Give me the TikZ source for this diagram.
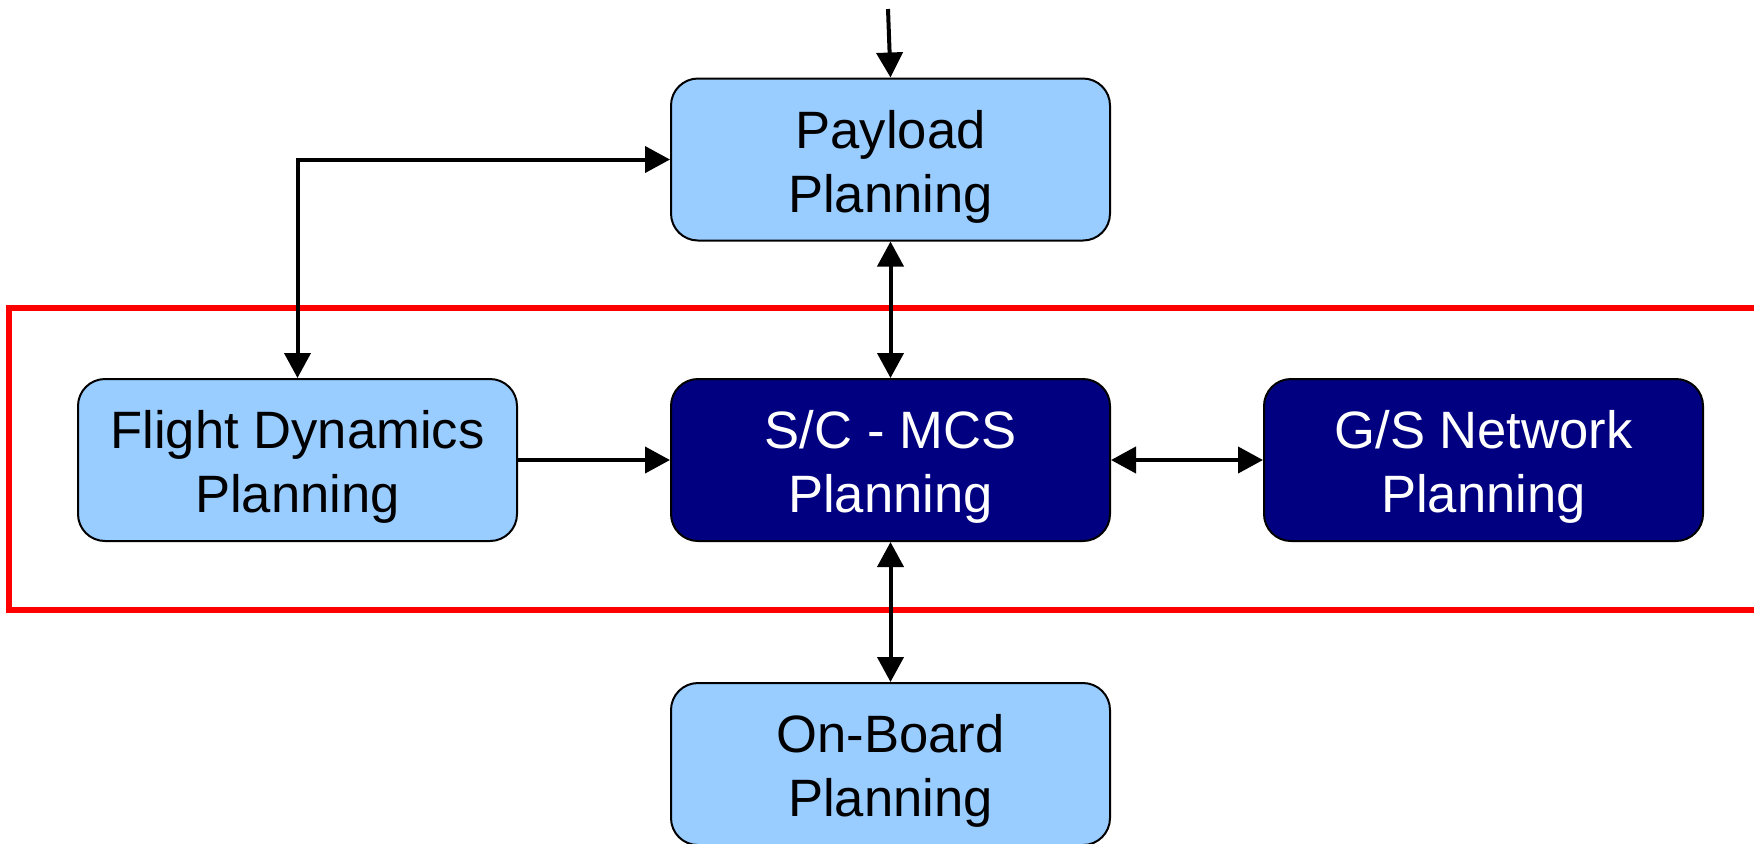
\documentclass[tikz,border=0pt]{standalone}
\usepackage{fontspec}
\setmainfont{Liberation Sans}
\usetikzlibrary{arrows.meta}
\definecolor{lightbox}{HTML}{99CCFF}
\definecolor{darkbox}{HTML}{000080}
\definecolor{frame}{HTML}{FF0000}
\tikzset{
  block/.style={draw=black, line width=1pt, rounded corners=13.5pt,
    minimum width=219.5pt, minimum height=81pt, align=center,
    font=\fontsize{26.3}{32}\selectfont,
    text height=52.5pt, text depth=0pt},
  lightblock/.style={block, fill=lightbox, text=black},
  darkblock/.style={block, fill=darkbox, text=white},
  flow/.style={line width=2pt, -{Triangle[length=12.5pt,width=13pt]}},
  biflow/.style={line width=2pt, {Triangle[length=12.5pt,width=13pt]}-{Triangle[length=12.5pt,width=13pt]}},
}
\begin{document}
\begin{tikzpicture}[x=0.5pt,y=-0.5pt]
  \useasboundingbox (0,0) rectangle (1754,843);
  % highlighted region around the mission control planning row
  \draw[frame, line width=2.6pt] (9,308) rectangle (1790,610);

  \node[lightblock] (payload) at (890.5,159.5) {Payload\\Planning};
  \node[lightblock] (fd) at (297.5,460) {Flight Dynamics\\Planning};
  \node[darkblock] (mcs) at (890.5,460) {S/C - MCS\\Planning};
  \node[darkblock] (gs) at (1483.5,460) {G/S Network\\Planning};
  \node[lightblock] (ob) at (890.5,764) {On-Board\\Planning};

  \coordinate (in) at (888,9);
  \draw[flow] (in) -- (payload.north);
  \draw[biflow] (payload.west) -| (fd.north);
  \draw[biflow] (payload.south) -- (mcs.north);
  \draw[flow] (fd.east) -- (mcs.west);
  \draw[biflow] (mcs.east) -- (gs.west);
  \draw[biflow] (mcs.south) -- (ob.north);
\end{tikzpicture}
\end{document}
